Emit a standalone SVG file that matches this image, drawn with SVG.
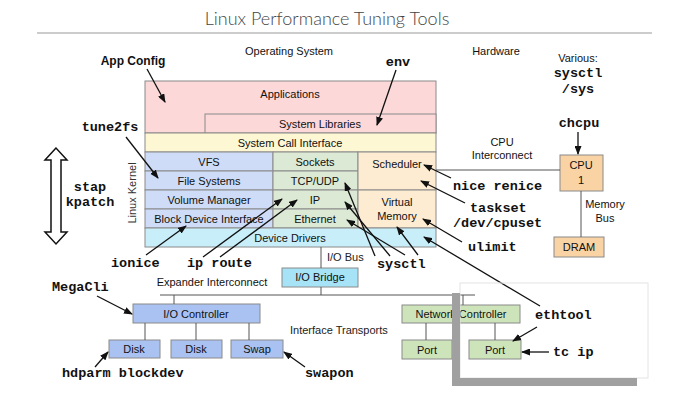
<svg xmlns="http://www.w3.org/2000/svg" width="673" height="408" viewBox="0 0 673 408">
<style>
.s{font-family:"Liberation Sans",Arial,sans-serif;font-size:11px;fill:#111;text-anchor:middle}
.h{font-family:"Liberation Sans",Arial,sans-serif;font-size:11px;fill:#222}
.m{font-family:"Liberation Mono","Courier New",monospace;font-size:13.5px;font-weight:bold;fill:#111}
.b{stroke:#8a8a8a;stroke-width:1}
.ln{stroke:#555;stroke-width:1;fill:none}
.ar{stroke:#111;stroke-width:1.3;fill:none;marker-end:url(#ah)}
</style>
<defs>
<marker id="ah" markerUnits="userSpaceOnUse" markerWidth="9" markerHeight="7" refX="8" refY="3.5" orient="auto">
<path d="M0,0 L9,3.5 L0,7 z" fill="#111"/>
</marker>
</defs>
<rect width="673" height="408" fill="#fff"/>
<text x="327" y="25" style="font-family:Lato,'Liberation Sans',sans-serif;font-weight:300;font-size:18px;fill:#444;text-anchor:middle">Linux Performance Tuning Tools</text>
<line x1="37" y1="33" x2="652" y2="33" stroke="#999" stroke-width="1"/>
<text class="s" x="289" y="55">Operating System</text>
<text class="s" x="496" y="55">Hardware</text>
<text class="s" x="578" y="62">Various:</text>

<g id="applications"><rect class="b" x="145" y="81" width="291" height="52" fill="#fdd8d8"/><text class="s" x="290" y="98">Applications</text></g>
<g id="system-libraries"><rect class="b" x="205" y="114" width="231" height="19" fill="#fdd8d8"/><text class="s" x="320" y="128">System Libraries</text></g>
<g id="syscall"><rect class="b" x="145" y="133" width="291" height="19" fill="#fdf7d4"/><text class="s" x="290" y="147">System Call Interface</text></g>
<g id="vfs"><rect class="b" x="145" y="152" width="128" height="19" fill="#cedcf7"/><text class="s" x="209" y="166">VFS</text></g>
<g id="fs"><rect class="b" x="145" y="171" width="128" height="19" fill="#cedcf7"/><text class="s" x="209" y="185">File Systems</text></g>
<g id="volmgr"><rect class="b" x="145" y="190" width="128" height="19" fill="#cedcf7"/><text class="s" x="209" y="204">Volume Manager</text></g>
<g id="bdi"><rect class="b" x="145" y="209" width="128" height="19" fill="#cedcf7"/><text class="s" x="209" y="223">Block Device Interface</text></g>
<g id="sockets"><rect class="b" x="273" y="152" width="85" height="19" fill="#dce9d5"/><text class="s" x="315" y="166">Sockets</text></g>
<g id="tcpudp"><rect class="b" x="273" y="171" width="85" height="19" fill="#dce9d5"/><text class="s" x="315" y="185">TCP/UDP</text></g>
<g id="ip"><rect class="b" x="273" y="190" width="85" height="19" fill="#dce9d5"/><text class="s" x="315" y="204">IP</text></g>
<g id="ethernet"><rect class="b" x="273" y="209" width="85" height="19" fill="#dce9d5"/><text class="s" x="315" y="223">Ethernet</text></g>
<g id="scheduler"><rect class="b" x="358" y="152" width="78" height="38" fill="#fdebd2"/><text class="s" x="397" y="168">Scheduler</text></g>
<g id="vm"><rect class="b" x="358" y="190" width="78" height="38" fill="#fdebd2"/><text class="s" x="397" y="206">Virtual</text><text class="s" x="397" y="220">Memory</text></g>
<g id="drivers"><rect class="b" x="145" y="228" width="291" height="19" fill="#c8eefa"/><text class="s" x="290" y="242">Device Drivers</text></g>
<text class="s" x="0" y="0" transform="translate(136,193) rotate(-90)" style="fill:#333">Linux Kernel</text>

<g id="cpu"><rect class="b" x="560" y="155" width="43" height="36" fill="#fad3a5"/><text class="s" x="581" y="169">CPU</text><text class="s" x="581" y="184">1</text></g>
<g id="dram"><rect class="b" x="554" y="237" width="50" height="20" fill="#fad3a5"/><text class="s" x="579" y="251">DRAM</text></g>
<g id="iobridge"><rect class="b" x="282" y="268" width="76" height="19" fill="#a6e3f6"/><text class="s" x="320" y="281">I/O Bridge</text></g>
<g id="ioctrl"><rect class="b" x="133" y="304" width="127" height="19" fill="#a9c2f2"/><text class="s" x="196" y="318">I/O Controller</text></g>
<g id="disk1"><rect class="b" x="109" y="340" width="51" height="18" fill="#a9c2f2"/><text class="s" x="134" y="353">Disk</text></g>
<g id="disk2"><rect class="b" x="171" y="340" width="51" height="18" fill="#a9c2f2"/><text class="s" x="196" y="353">Disk</text></g>
<g id="swap"><rect class="b" x="231" y="340" width="52" height="18" fill="#a9c2f2"/><text class="s" x="257" y="353">Swap</text></g>
<g id="netctrl"><rect class="b" x="402" y="305" width="118" height="18" fill="#cde4bb"/><text class="s" x="461" y="318">Network Controller</text></g>
<g id="port1"><rect class="b" x="402" y="340" width="50" height="19" fill="#cde4bb"/><text class="s" x="427" y="354">Port</text></g>
<g id="port2"><rect class="b" x="469" y="340" width="52" height="19" fill="#cde4bb"/><text class="s" x="495" y="354">Port</text></g>

<g id="bus-labels">
<text class="s" x="502" y="146">CPU</text><text class="s" x="502" y="159">Interconnect</text>
<text class="s" x="605" y="208">Memory</text><text class="s" x="605" y="222">Bus</text>
<text class="h" x="327" y="261">I/O Bus</text>
<text class="s" x="212" y="286">Expander Interconnect</text>
<text class="h" x="290" y="334">Interface Transports</text>
</g>

<g id="tools">
<text x="133" y="65" style="font-family:'Liberation Sans',Arial,sans-serif;font-size:12px;font-weight:bold;text-anchor:middle;fill:#111">App Config</text>
<text class="m" x="398" y="66" text-anchor="middle">env</text>
<text class="m" x="578" y="77" text-anchor="middle">sysctl</text>
<text class="m" x="578" y="93" text-anchor="middle">/sys</text>
<text class="m" x="579" y="127" text-anchor="middle">chcpu</text>
<text class="m" x="110" y="131" text-anchor="middle">tune2fs</text>
<text class="m" x="90" y="191" text-anchor="middle">stap</text>
<text class="m" x="90" y="206" text-anchor="middle">kpatch</text>
<text class="m" x="453" y="190">nice renice</text>
<text class="m" x="470" y="212">taskset</text>
<text class="m" x="453" y="227">/dev/cpuset</text>
<text class="m" x="468" y="251">ulimit</text>
<text class="m" x="111" y="267">ionice</text>
<text class="m" x="187" y="267">ip route</text>
<text class="m" x="377" y="268">sysctl</text>
<text class="m" x="52" y="291">MegaCli</text>
<text class="m" x="62" y="377">hdparm blockdev</text>
<text class="m" x="305" y="377">swapon</text>
<text class="m" x="535" y="319">ethtool</text>
<text class="m" x="553" y="356">tc ip</text>
</g>

<g id="connectors">
<line class="ln" x1="436" y1="170" x2="560" y2="170"/>
<line class="ln" x1="581" y1="191" x2="581" y2="237"/>
<line class="ln" x1="321" y1="247" x2="321" y2="268"/>
<line class="ln" x1="321" y1="287" x2="321" y2="295"/>
<line class="ln" x1="160" y1="295" x2="475" y2="295"/>
<line class="ln" x1="174" y1="295" x2="174" y2="304"/>
<line class="ln" x1="463" y1="295" x2="463" y2="305"/>
<line class="ln" x1="145" y1="323" x2="145" y2="340"/>
<line class="ln" x1="196" y1="323" x2="196" y2="340"/>
<line class="ln" x1="249" y1="323" x2="249" y2="340"/>
<line class="ln" x1="426" y1="323" x2="426" y2="340"/>
<line class="ln" x1="495" y1="323" x2="495" y2="340"/>
<polygon points="56,148 45,160 51,160 51,232 45,232 56,244 67,232 61,232 61,160 67,160" fill="#fff" stroke="#111" stroke-width="1.5"/>
<line class="ar" x1="147" y1="69" x2="165" y2="102"/>
<line class="ar" x1="396" y1="70" x2="377" y2="125"/>
<line class="ar" x1="126" y1="137" x2="158" y2="178"/>
<line class="ar" x1="578" y1="132" x2="578" y2="154"/>
<line class="ar" x1="451" y1="178" x2="424" y2="165"/>
<line class="ar" x1="465" y1="203" x2="421" y2="181"/>
<line class="ar" x1="462" y1="242" x2="423" y2="219"/>
<line class="ar" x1="540" y1="306" x2="424" y2="237"/>
<line class="ar" x1="537" y1="327" x2="513" y2="341"/>
<line class="ar" x1="549" y1="352" x2="522" y2="352"/>
<line class="ar" x1="146" y1="255" x2="186" y2="226"/>
<line class="ar" x1="203" y1="257" x2="282" y2="199"/>
<line class="ar" x1="220" y1="257" x2="297" y2="200"/>
<line class="ar" x1="375" y1="256" x2="345" y2="183"/>
<line class="ar" x1="390" y1="256" x2="345" y2="202"/>
<line class="ar" x1="405" y1="255" x2="347" y2="220"/>
<line class="ar" x1="418" y1="255" x2="397" y2="227"/>
<line class="ar" x1="97" y1="296" x2="132" y2="314"/>
<line class="ar" x1="95" y1="367" x2="108" y2="352"/>
<line class="ar" x1="305" y1="367" x2="284" y2="352"/>
</g>

<rect x="460" y="283" width="188" height="95" fill="none" stroke="#e4e4e4" stroke-width="1"/>
<rect x="452" y="293" width="8" height="93" fill="#a0a0a0"/>
<rect x="452" y="378" width="185" height="8" fill="#a0a0a0"/>
</svg>
